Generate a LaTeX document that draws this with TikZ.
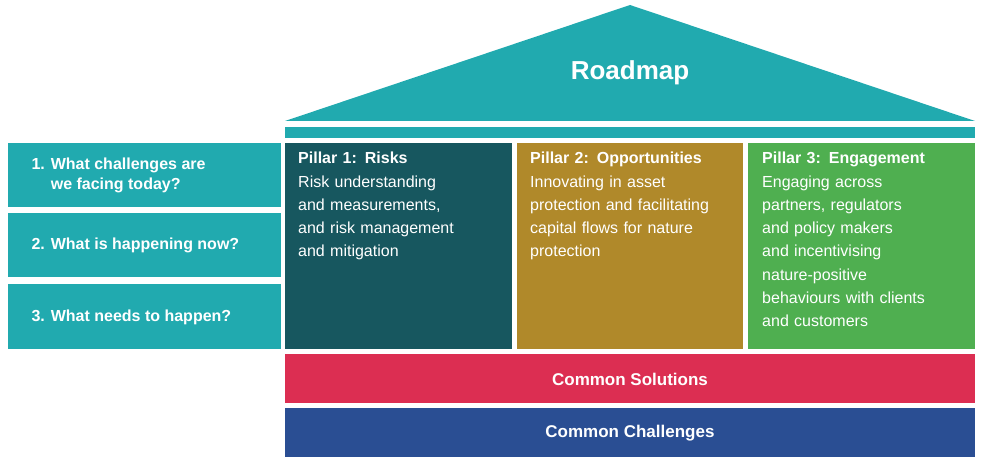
\documentclass[tikz,border=0pt]{standalone}
\usepackage{fontspec}
\setmainfont{Liberation Sans}
\definecolor{teal}{HTML}{21AAAF}
\definecolor{dteal}{HTML}{17575F}
\definecolor{gold}{HTML}{B0892A}
\definecolor{grn}{HTML}{4FAF50}
\definecolor{rd}{HTML}{DC2E52}
\definecolor{blu}{HTML}{2A4E93}
\begin{document}
\begin{tikzpicture}[x=1pt,y=-1pt,
  box/.style={draw=none,inner sep=0pt,outer sep=0pt,anchor=north west},
  q/.style={font=\fontsize{16}{20}\selectfont\bfseries,text=white,align=left,anchor=west},
  ptxt/.style={text=white,align=left,anchor=north west,inner sep=0pt,text width=210pt,font=\fontsize{16}{23.3}\selectfont}]
\useasboundingbox (0,0) rectangle (982,462);
\fill[teal] (285,121) -- (630,5) -- (975,121) -- cycle;
\node[font=\fontsize{26}{30}\selectfont\bfseries,text=white] (roof) at (630,73) {Roadmap};
\fill[teal] (285,127) rectangle (975,138);
\node[box,fill=teal,minimum width=273pt,minimum height=64pt] (q1) at (8,143) {};
\node[box,fill=teal,minimum width=273pt,minimum height=64pt] (q2) at (8,213) {};
\node[box,fill=teal,minimum width=273pt,minimum height=65pt] (q3) at (8,284) {};
\node[q] at (28,175) {1. What challenges are\\\phantom{1. }we facing today?};
\node[q] at (28,245) {2. What is happening now?};
\node[q] at (28,317) {3. What needs to happen?};
\node[box,fill=dteal,minimum width=227pt,minimum height=206pt] (p1) at (285,143) {};
\node[box,fill=gold,minimum width=226pt,minimum height=206pt] (p2) at (517,143) {};
\node[box,fill=grn,minimum width=227pt,minimum height=206pt] (p3) at (748,143) {};
\node[ptxt] at (298,152) {\textbf{Pillar 1: Risks}\\Risk understanding\\and measurements,\\and risk management\\and mitigation};
\node[ptxt] at (530,152) {\textbf{Pillar 2: Opportunities}\\Innovating in asset\\protection and facilitating\\capital flows for nature\\protection};
\node[ptxt] at (762,152) {\textbf{Pillar 3: Engagement}\\Engaging across\\partners, regulators\\and policy makers\\and incentivising\\nature-positive\\behaviours with clients\\and customers};
\node[box,fill=rd,minimum width=690pt,minimum height=49pt] (s) at (285,354) {};
\node[font=\fontsize{17}{20}\selectfont\bfseries,text=white] at (630,379) {Common Solutions};
\node[box,fill=blu,minimum width=690pt,minimum height=49pt] (c) at (285,408) {};
\node[font=\fontsize{17}{20}\selectfont\bfseries,text=white] at (630,433) {Common Challenges};
\end{tikzpicture}
\end{document}
